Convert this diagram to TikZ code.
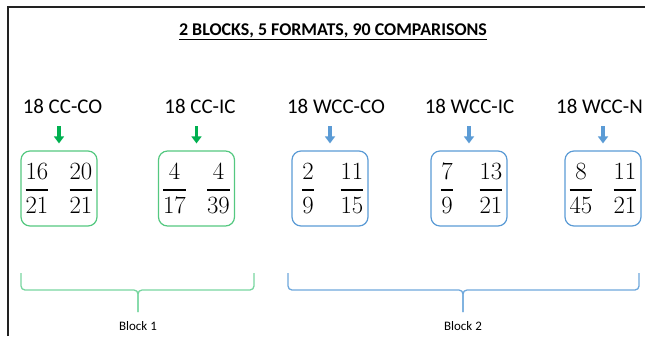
\documentclass[tikz,border=0pt]{standalone}
\usepackage{amsmath}
\usepackage[no-math]{fontspec}
\setmainfont{Carlito}
\usetikzlibrary{arrows.meta, positioning, calc}
\definecolor{FrameDark}{RGB}{34, 34, 34}
\definecolor{GreenArrow}{RGB}{0, 176, 80}
\definecolor{GreenLine}{RGB}{84, 200, 128}
\definecolor{GreenBrace}{RGB}{120, 214, 160}
\definecolor{BlueLine}{RGB}{91, 155, 213}
\definecolor{BlueBrace}{RGB}{111, 168, 220}

\tikzset{
  fmtlabel/.style={font=\fontsize{21}{24}\selectfont, inner sep=0pt, anchor=base},
  fracbox/.style={draw=#1, rounded corners=9bp, line width=1.2bp, minimum width=76bp,
                  minimum height=75bp, inner sep=0pt, font=\fontsize{24.5}{28}\selectfont},
  downarrow/.style={draw=#1, line width=3.2bp, -{Triangle[width=10bp, length=7bp]},
                    shorten <=13bp, shorten >=7bp},
  bracepath/.style={draw=#1, line width=1.3bp, rounded corners=4bp},
  blocklabel/.style={font=\fontsize{13}{15}\selectfont, anchor=base, inner sep=0pt}
}
\newcommand{\fracpair}[4]{\makebox[30bp]{$\genfrac{}{}{1.5bp}{0}{#1}{#2}$}\hspace{14bp}\makebox[30bp]{$\genfrac{}{}{1.5bp}{0}{#3}{#4}$}}

\begin{document}
\begin{tikzpicture}[x=1bp, y=-1bp]
  \useasboundingbox (0,0) rectangle (645,336);
  \draw[FrameDark, line width=1.5bp] (8,336) -- (8,7) -- (645,7);

  \node[font=\fontsize{18}{21}\selectfont\bfseries, anchor=base, inner sep=0pt] (title) at (333,35)
       {\underline{2 BLOCKS, 5 FORMATS, 90 COMPARISONS}};

  % formats
  \node[fmtlabel] (lab1) at (62.5,113) {18 CC-CO};
  \node[fmtlabel] (lab2) at (200,113) {18 CC-IC};
  \node[fmtlabel] (lab3) at (336,113) {18 WCC-CO};
  \node[fmtlabel] (lab4) at (469.5,113) {18 WCC-IC};
  \node[fmtlabel] (lab5) at (599.5,113) {18 WCC-N};

  \node[fracbox=GreenLine] (box1) at (59,188.5) {\fracpair{16}{21}{20}{21}};
  \node[fracbox=GreenLine] (box2) at (196.5,188.5) {\fracpair{4}{17}{4}{39}};
  \node[fracbox=BlueLine] (box3) at (330,188.5) {\fracpair{2}{9}{11}{15}};
  \node[fracbox=BlueLine] (box4) at (469,188.5) {\fracpair{7}{9}{13}{21}};
  \node[fracbox=BlueLine] (box5) at (603,188.5) {\fracpair{8}{45}{11}{21}};

  \draw[downarrow=GreenArrow] (lab1.south -| box1.north) -- (box1.north);
  \draw[downarrow=GreenArrow] (lab2.south -| box2.north) -- (box2.north);
  \draw[downarrow=BlueLine] (lab3.south -| box3.north) -- (box3.north);
  \draw[downarrow=BlueLine] (lab4.south -| box4.north) -- (box4.north);
  \draw[downarrow=BlueLine] (lab5.south -| box5.north) -- (box5.north);

  % blocks
  \draw[bracepath=GreenBrace] (21,273) |- (138,290) -- (138,312);
  \draw[bracepath=GreenBrace] (254,273) |- (138,290) -- (138,312);
  \draw[bracepath=BlueBrace] (288,273) |- (463,290) -- (463,312);
  \draw[bracepath=BlueBrace] (639,273) |- (463,290) -- (463,312);

  \node[blocklabel] (blk1) at (138,330) {Block 1};
  \node[blocklabel] (blk2) at (463,330) {Block 2};
\end{tikzpicture}
\end{document}
